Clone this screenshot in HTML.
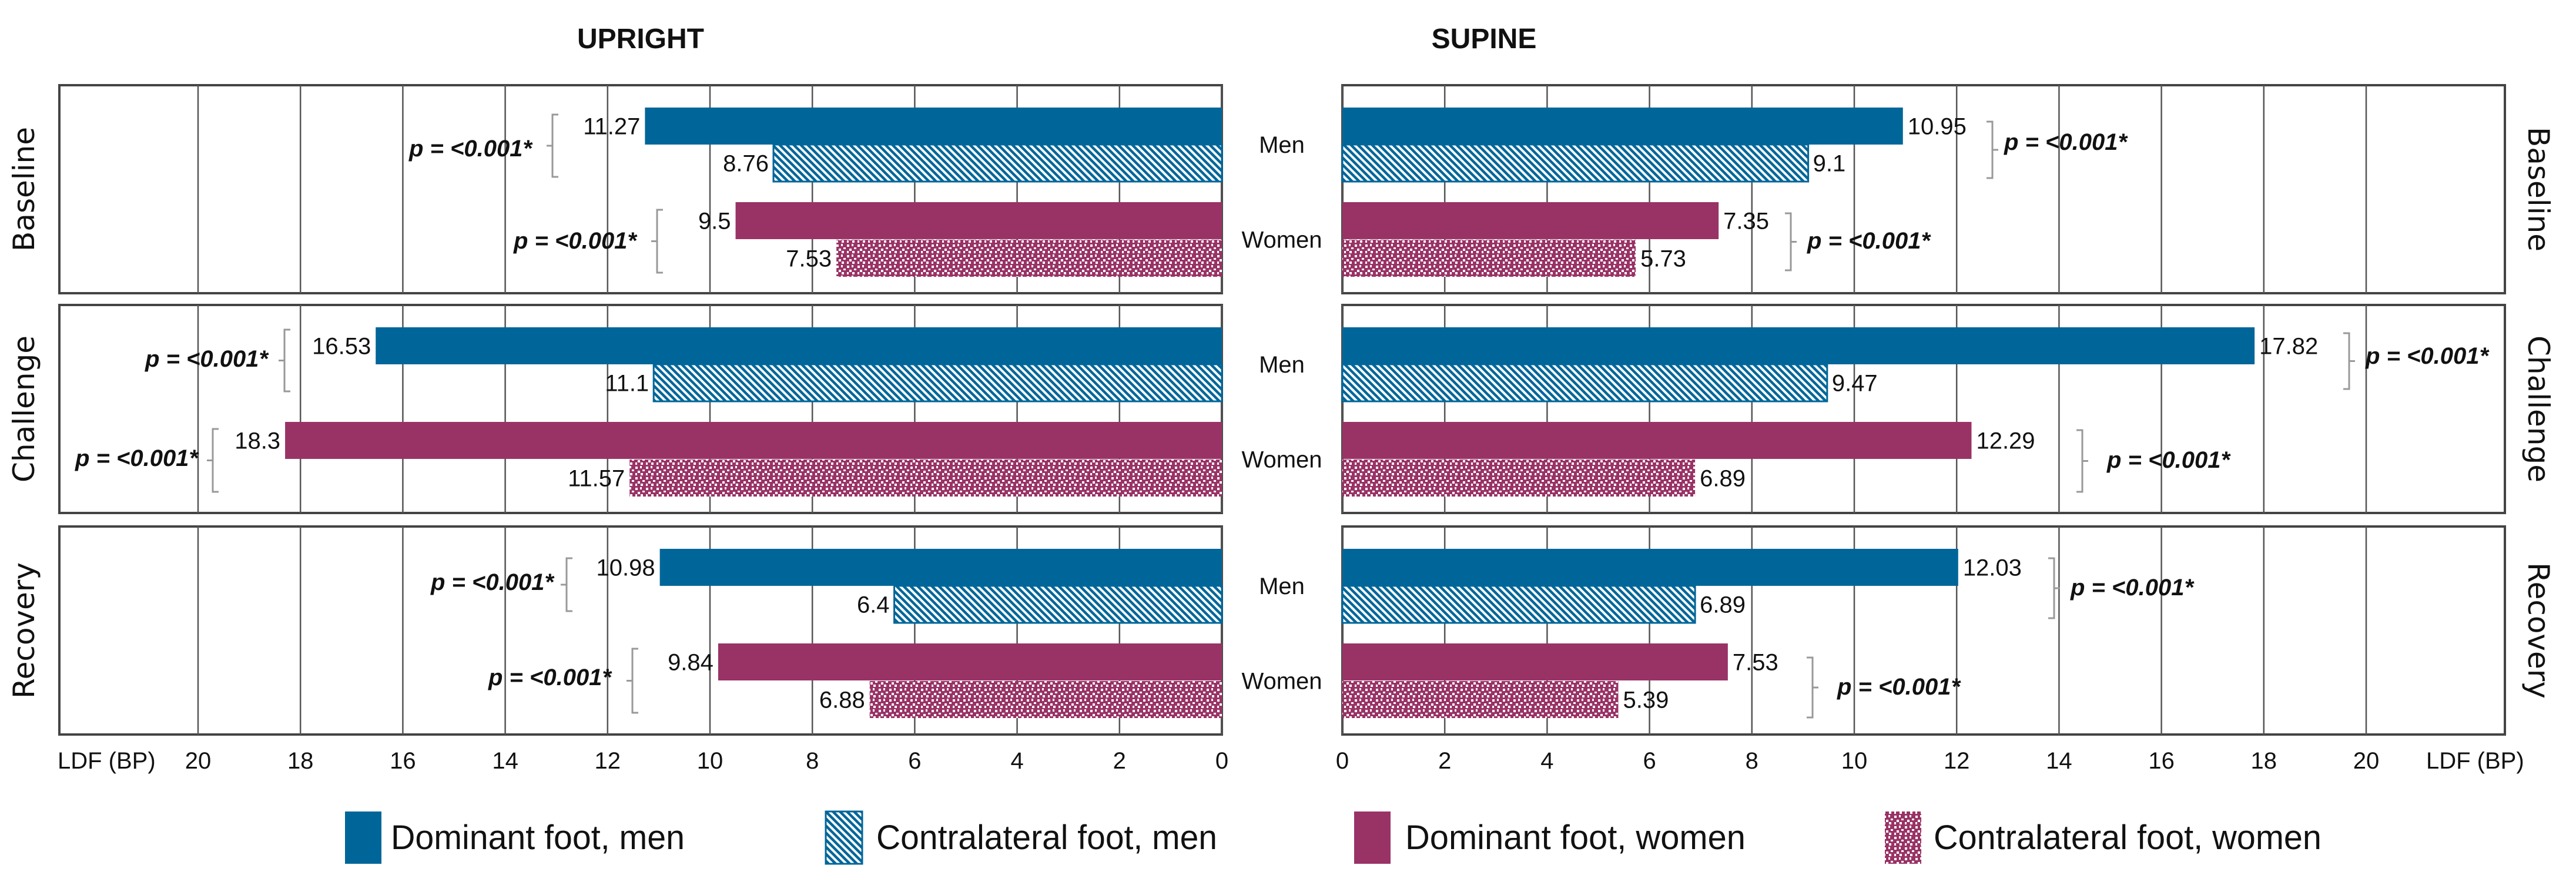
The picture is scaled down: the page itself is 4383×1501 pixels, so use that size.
<!DOCTYPE html>
<html><head><meta charset="utf-8"><style>
html,body{margin:0;padding:0;background:#fff}
svg{display:block}
text{font-family:"Liberation Sans",sans-serif;fill:#111}
</style></head><body>
<svg id="chart" width="4383" height="1501" viewBox="0 0 4383 1501" xmlns="http://www.w3.org/2000/svg">
<defs>
<pattern id="hatch" patternUnits="userSpaceOnUse" width="12" height="12">
<rect width="12" height="12" fill="#fff"/>
<path d="M-3,-3 L15,15 M-3,9 L3,15 M9,-3 L15,3" stroke="#006699" stroke-width="4.5"/>
</pattern>
<pattern id="dots" patternUnits="userSpaceOnUse" width="18" height="18">
<rect width="18" height="18" fill="#993366"/>
<rect x="1" y="2" width="4" height="4" fill="#fff"/>
<rect x="9" y="1" width="3" height="4" fill="#fff"/>
<rect x="13" y="7" width="4" height="3" fill="#fff"/>
<rect x="5" y="9" width="4" height="4" fill="#fff"/>
<rect x="1" y="13" width="3" height="4" fill="#fff"/>
<rect x="10" y="13" width="4" height="4" fill="#fff"/>
</pattern>
</defs>
<g id="root"></g>
</svg>
<script>
const conditions = ['Baseline','Challenge','Recovery'];
const uprightMenDom = [11.27, 16.53, 10.98];
const uprightMenCon = [8.76, 11.1, 6.4];
const uprightWomenDom = [9.5, 18.3, 9.84];
const uprightWomenCon = [7.53, 11.57, 6.88];
const supineMenDom = [10.95, 17.82, 12.03];
const supineMenCon = [9.1, 9.47, 6.89];
const supineWomenDom = [7.35, 12.29, 7.53];
const supineWomenCon = [5.73, 6.89, 5.39];
const tickValues = [0,2,4,6,8,10,12,14,16,18,20];
const pLabel = 'p = <0.001*';

const NS = 'http://www.w3.org/2000/svg';
const root = document.getElementById('root');
function mk(tag, attrs, parent){
  const e = document.createElementNS(NS, tag);
  for (const k in attrs) e.setAttribute(k, attrs[k]);
  (parent||root).appendChild(e);
  return e;
}
const UNIT = 87.1;
const xL = v => 2079 - v*UNIT;
const xR = v => 2284 + v*UNIT;
const panelTop = [145, 519, 896];
const PH = 354;
const barOff = [38, 101, 199, 263];
const BH = 63;
const BLUE = '#006699', MAG = '#993366';

let t = mk('text',{x:1090,y:82,'text-anchor':'middle','font-size':48,'font-weight':'bold'});


t.textContent='UPRIGHT';
t = mk('text',{x:2525,y:82,'text-anchor':'middle','font-size':48,'font-weight':'bold'});


t.textContent='SUPINE';

for (let p=0;p<3;p++){
  const y0 = panelTop[p];
  [['left',101,2079,xL],['right',2284,4262,xR]].forEach(([side,a,b,sc])=>{
    const fr = mk('rect',{x:a,y:y0,width:b-a,height:PH,fill:'#fff',stroke:'#444','stroke-width':4});
    
    
    tickValues.forEach(v=>{
      const g = mk('line',{x1:sc(v),x2:sc(v),y1:y0,y2:y0+PH,stroke:'#555','stroke-width':2.5});
      
      
    });
  });
  const cy = y0 + PH/2;
  let s = mk('text',{x:0,y:0,transform:`translate(58,${cy}) rotate(-90)`,'text-anchor':'middle','font-size':50,style:'font-family:"DejaVu Sans",sans-serif'});
  
  
  s.textContent = conditions[p];
  s = mk('text',{x:0,y:0,transform:`translate(4302,${cy}) rotate(90)`,'text-anchor':'middle','font-size':50,style:'font-family:"DejaVu Sans",sans-serif'});
  
  
  s.textContent = conditions[p];
  s = mk('text',{x:2181,y:y0+(barOff[0]+barOff[1]+BH)/2+14,'text-anchor':'middle','font-size':40});
  
  
  s.textContent='Men';
  s = mk('text',{x:2181,y:y0+(barOff[2]+barOff[3]+BH)/2+14,'text-anchor':'middle','font-size':40});
  
  
  s.textContent='Women';
}

function drawBars(side, series){
  const sc = side==='left'?xL:xR;
  series.forEach((ser,i)=>{
    for (let p=0;p<3;p++){
      const v = ser.vals[p];
      const y = panelTop[p]+barOff[i];
      const x0 = sc(0), x1 = sc(v);
      const r = mk('rect',{x:Math.min(x0,x1),y:y,width:Math.abs(x1-x0),height:BH,fill:ser.fill,stroke:ser.stroke||'none','stroke-width':ser.stroke?3:0});
      
      
      const lx = side==='left'? x1-8 : x1+8;
      const lbl = mk('text',{x:lx,y:y+BH/2+14,'text-anchor':side==='left'?'end':'start','font-size':40});
      
      
      lbl.textContent = String(v);
    }
  });
}
drawBars('left',[
  {key:'men-dominant',vals:uprightMenDom,fill:BLUE},
  {key:'men-contralateral',vals:uprightMenCon,fill:'url(#hatch)',stroke:BLUE},
  {key:'women-dominant',vals:uprightWomenDom,fill:MAG},
  {key:'women-contralateral',vals:uprightWomenCon,fill:'url(#dots)'}
]);
drawBars('right',[
  {key:'men-dominant',vals:supineMenDom,fill:BLUE},
  {key:'men-contralateral',vals:supineMenCon,fill:'url(#hatch)',stroke:BLUE},
  {key:'women-dominant',vals:supineWomenDom,fill:MAG},
  {key:'women-contralateral',vals:supineWomenCon,fill:'url(#dots)'}
]);

const annots = [
  ['left',940,195,301,905,266],
  ['left',1118,357,464,1083,423],
  ['left',484,561,666,456,624],
  ['left',362,730,837,337,793],
  ['left',964,950,1040,942,1004],
  ['left',1076,1104,1213,1040,1166],
  ['right',3390,207,303,3410,255],
  ['right',3047,363,460,3075,423],
  ['right',3997,567,662,4025,619],
  ['right',3543,732,837,3585,796],
  ['right',3495,950,1052,3523,1013],
  ['right',3084,1119,1221,3126,1182]
];
annots.forEach(a=>{
  const [side,bx,y1,y2,lx,ly]=a;
  const d = side==='left'?1:-1;
  const ym=(y1+y2)/2;
  const br = mk('path',{d:`M${bx+10*d},${y1} L${bx},${y1} L${bx},${y2} L${bx+10*d},${y2} M${bx},${ym} L${bx-10*d},${ym}`,fill:'none',stroke:'#999','stroke-width':3});
  
  
  const tx = mk('text',{x:lx,y:ly,'text-anchor':side==='left'?'end':'start','font-size':40,'font-weight':'bold','font-style':'italic'});
  
  
  tx.textContent = pLabel;
});

tickValues.forEach(v=>{
  let e = mk('text',{x:xL(v),y:1308,'text-anchor':'middle','font-size':40});
  
  
  e.textContent=String(v);
  e = mk('text',{x:xR(v),y:1308,'text-anchor':'middle','font-size':40});
  
  
  e.textContent=String(v);
});
let ax = mk('text',{x:98,y:1308,'font-size':40});


ax.textContent='LDF (BP)';
ax = mk('text',{x:4128,y:1308,'font-size':40});


ax.textContent='LDF (BP)';

const legend = [
  ['Dominant foot, men',BLUE,null,587,665,500],
  ['Contralateral foot, men','url(#hatch)',BLUE,1405,1491,580],
  ['Dominant foot, women',MAG,null,2304,2391,579],
  ['Contralateral foot, women','url(#dots)',null,3207,3290,660]
];
legend.forEach(l=>{
  const g = mk('g',{});
  
  
  mk('rect',{x:l[3],y:1381,width:62,height:89,fill:l[1],stroke:l[2]||'none','stroke-width':l[2]?3:0},g);
  const tx = mk('text',{x:l[4],y:1445,'font-size':58,textLength:l[5],lengthAdjust:'spacingAndGlyphs'},g);
  tx.textContent=l[0];
});
</script>
</body></html>
